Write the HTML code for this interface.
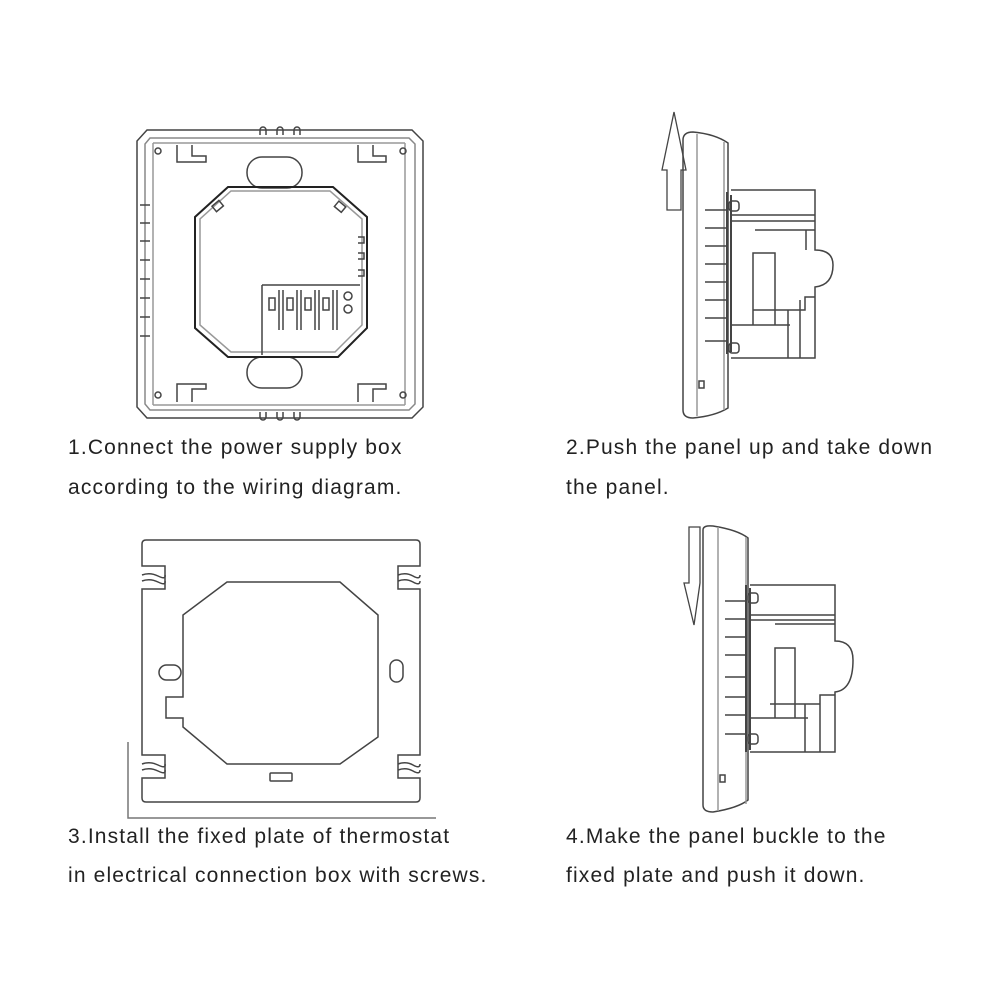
<!DOCTYPE html>
<html><head><meta charset="utf-8"><style>
html,body{margin:0;padding:0;background:#fff;}
svg{display:block}
text{font-family:"Liberation Sans",Arial,sans-serif;font-size:21px;fill:#222;letter-spacing:1.15px}
</style></head><body>
<svg width="1000" height="1000" viewBox="0 0 1000 1000" xmlns="http://www.w3.org/2000/svg">
<g fill="none" stroke="#444" stroke-width="1.5">
<!-- Diagram 1 -->
<path d="M147,130 H412 L423,141 V407 L412,418 H147 L137,407 V141 Z"/>
<path d="M150,138 H409 L415,144 V404 L409,410 H150 L145,404 V144 Z" stroke="#888"/>
<path d="M153,143 H405 M153,405 H405 M153,143 V405 M405,143 V405" stroke="#999"/>
<circle cx="158" cy="151" r="3"/><circle cx="403" cy="151" r="3"/><circle cx="158" cy="395" r="3"/><circle cx="403" cy="395" r="3"/>
<path d="M177,145 V162 H206 V156 H192 V145"/><path d="M358,145 V162 H386 V156 H373 V145"/>
<path d="M177,402 V384 H206 V389 H192 V402"/><path d="M358,402 V384 H386 V389 H373 V402"/>
<path d="M260,135 v-5 a3,3 0 0 1 6,0 v5 M277,135 v-5 a3,3 0 0 1 6,0 v5 M294,135 v-5 a3,3 0 0 1 6,0 v5"/>
<path d="M260,412 v5 a3,3 0 0 0 6,0 v-5 M277,412 v5 a3,3 0 0 0 6,0 v-5 M294,412 v5 a3,3 0 0 0 6,0 v-5"/>
<path d="M140,205 h10 M140,223 h10 M140,241 h10 M140,260 h10 M140,279 h10 M140,298 h10 M140,317 h10 M140,336 h10"/>
<rect x="247" y="157" width="55" height="31" rx="15"/>
<rect x="247" y="357" width="55" height="31" rx="15"/>
<path d="M228,187 H333 L367,217 V328 L338,357 H228 L195,328 V217 Z" stroke="#222" stroke-width="2"/>
<path d="M231,191 H330 L362,219 V325 L335,352 H231 L200,325 V219 Z" stroke="#999"/>
<rect x="213" y="203" width="9" height="7" transform="rotate(-40 217 206)"/><rect x="336" y="203" width="9" height="7" transform="rotate(40 340 206)"/>
<path d="M358,237 h6 v6 h-6 M358,253 h6 v6 h-6 M358,270 h6 v6 h-6"/>
<path d="M262,285 H360 M262,285 V355"/>
<rect x="269" y="298" width="6" height="12"/><rect x="287" y="298" width="6" height="12"/><rect x="305" y="298" width="6" height="12"/><rect x="323" y="298" width="6" height="12"/>
<path d="M279,290 V330 M283,290 V330 M297,290 V330 M301,290 V330 M315,290 V330 M319,290 V330 M333,290 V330 M337,290 V330"/>
<circle cx="348" cy="296" r="4"/><circle cx="348" cy="309" r="4"/>

<!-- Diagram 2 -->
<path d="M667,210 V170 H662 L674,112 L686,170 H681 V210 Z" stroke-width="1.3"/>
<path d="M683,140 Q683,132 693,132 Q715,134 728,143 V408 Q715,416 693,418 Q683,418 683,410 Z"/>
<path d="M697,134 V416 M724,142 V410" stroke="#999"/>
<path d="M727,192 V354 M731,195 V352" stroke-width="2"/>
<path d="M731,190 H815 V250 Q833,250 833,265 Q833,285 815,287 V358 H731"/>
<path d="M731,215 H815 M731,221 H815 M755,230 H815 M806,250 V230"/>
<path d="M753,253 H775 V325 H753 Z M753,310 H805 V297 H815 M788,310 V358 M800,300 V358 M731,325 H790"/>
<path d="M705,210 h22 M705,228 h22 M705,246 h22 M705,264 h22 M705,282 h22 M705,300 h22 M705,318 h22 M705,341 h22"/>
<rect x="729" y="201" width="10" height="10" rx="3"/><rect x="729" y="343" width="10" height="10" rx="3"/>
<rect x="699" y="381" width="5" height="7"/>

<!-- Diagram 3 -->
<path d="M128,742 V818 H436" stroke="#777"/>
<path d="M146,540 H416 Q420,540 420,544 V566 H398 V589 H420 V755 H398 V778 H420 V798 Q420,802 416,802 H146 Q142,802 142,798 V778 H165 V755 H142 V589 H165 V566 H142 V544 Q142,540 146,540 Z"/>
<path d="M142,575 Q150,572 158,576 T165,575 M142,581 Q150,578 158,582 T165,581 M398,575 Q406,572 413,576 T420,575 M398,581 Q406,578 413,582 T420,581 M142,764 Q150,761 158,765 T165,764 M142,770 Q150,767 158,771 T165,770 M398,764 Q406,761 413,765 T420,764 M398,770 Q406,767 413,771 T420,770"/>
<path d="M227,582 H340 L378,615 V737 L340,764 H227 L183,727 V718 H166 V697 H183 V615 Z"/>
<rect x="159" y="665" width="22" height="15" rx="7.5"/>
<rect x="390" y="660" width="13" height="22" rx="6.5"/>
<rect x="270" y="773" width="22" height="8" rx="1"/>

<!-- Diagram 4 -->
<path d="M689,527 V583 H684 L694,625 L700,583 V527 Z" stroke-width="1.3"/>
<path d="M703,530 Q703,525 713,526 Q738,530 748,538 V800 Q738,808 713,812 Q703,812 703,805 Z"/>
<path d="M718,527 V811 M746,537 V804" stroke="#999"/>
<path d="M746,585 V752 M750,588 V750" stroke-width="2"/>
<path d="M750,585 H835 V641 Q853,641 853,660 Q853,690 835,692 V752 H750"/>
<path d="M750,615 H835 M750,620 H835 M775,624 H835"/>
<path d="M775,648 H795 V718 H775 Z M770,704 H820 V695 H835 M805,704 V752 M820,695 V752 M750,718 H808"/>
<path d="M725,601 h22 M725,619 h22 M725,637 h22 M725,655 h22 M725,677 h22 M725,697 h22 M725,715 h22 M725,734 h22"/>
<rect x="748" y="593" width="10" height="10" rx="3"/><rect x="748" y="734" width="10" height="10" rx="3"/>
<rect x="720" y="775" width="5" height="7"/>
</g>
<text x="68" y="454">1.Connect the power supply box</text>
<text x="68" y="494">according to the wiring diagram.</text>
<text x="566" y="454">2.Push the panel up and take down</text>
<text x="566" y="494">the panel.</text>
<text x="68" y="843">3.Install the fixed plate of thermostat</text>
<text x="68" y="882">in electrical connection box with screws.</text>
<text x="566" y="843">4.Make the panel buckle to the</text>
<text x="566" y="882">fixed plate and push it down.</text>
</svg>
</body></html>
